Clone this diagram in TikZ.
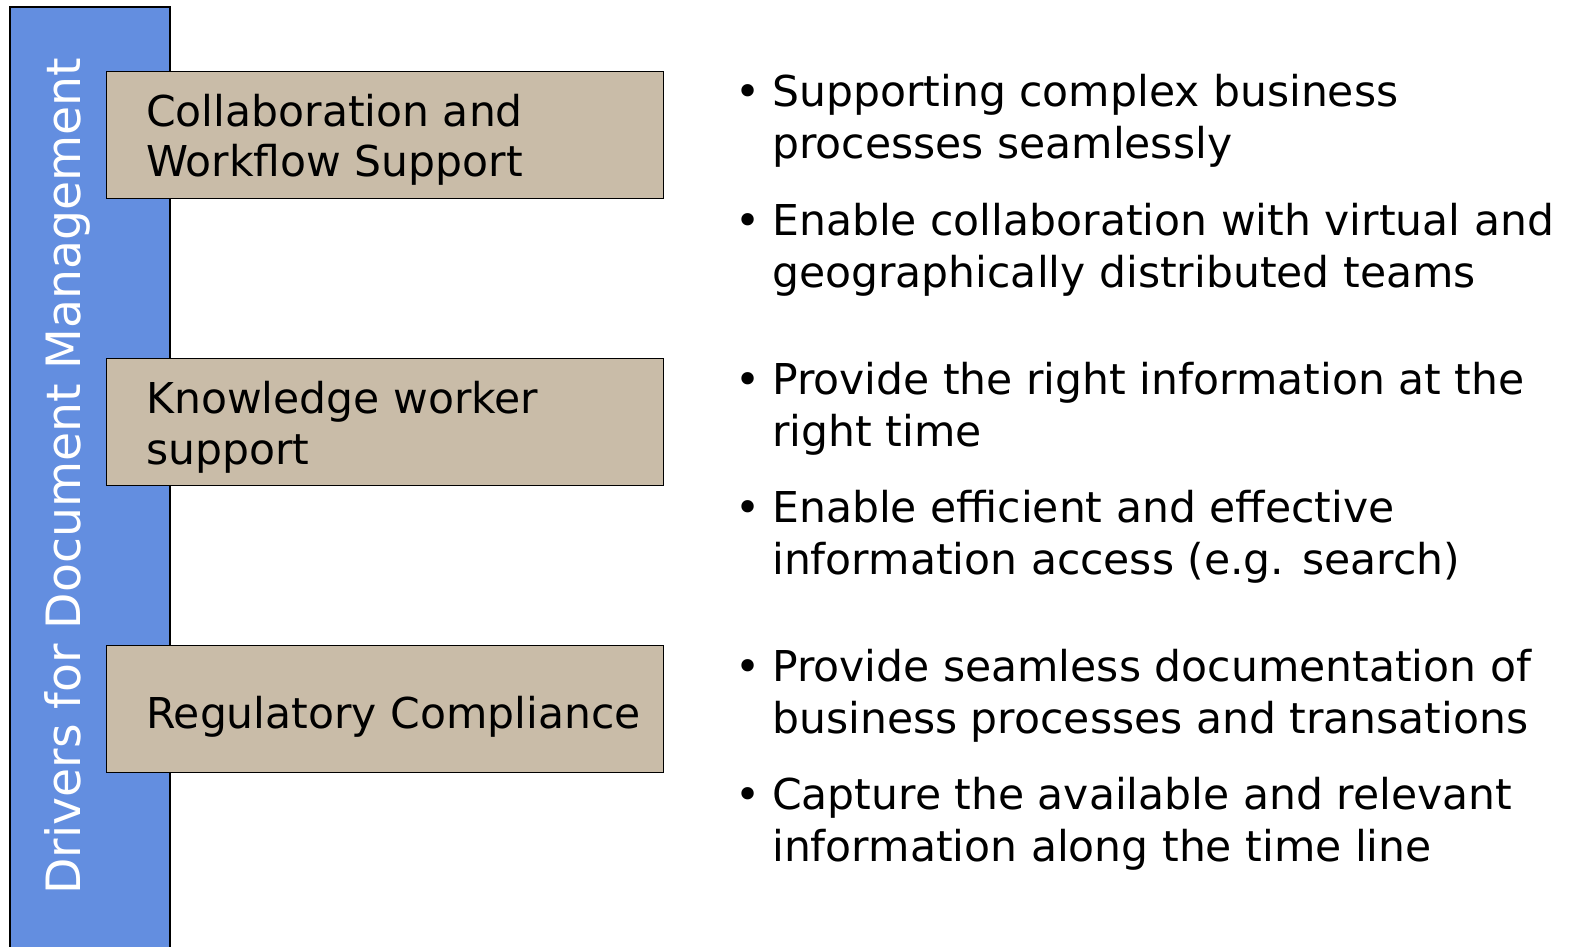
\documentclass[tikz,border=0pt]{standalone}
\usepackage{fontspec}
\setmainfont{DejaVu Sans}
\definecolor{barblue}{RGB}{99,142,224}
\definecolor{tan}{RGB}{201,188,168}
\tikzset{
  drv/.style={draw=black, line width=1.2pt, fill=tan, minimum width=557pt, minimum height=127pt,
    anchor=north west, inner sep=0pt},
  lbl/.style={anchor=base west, inner sep=0pt, align=left, font=\fontsize{42.5}{51}\selectfont},
  bul/.style={anchor=base west, inner sep=0pt, align=left, font=\fontsize{42.5}{52}\selectfont},
  dot/.style={anchor=base, inner sep=0pt, font=\fontsize{42.5}{52}\selectfont},
}
\begin{document}
\begin{tikzpicture}[x=1pt,y=-1pt]
\useasboundingbox (0,0) rectangle (1575,947);
\fill[barblue] (10,7) rectangle (170,948);
\draw[line width=1.2pt] (10,948) -- (10,7) -- (170,7) -- (170,948);
\node[rotate=90, anchor=base, text=white, inner sep=0pt, font=\fontsize{47.3}{50}\selectfont] (title) at (80,476) {Drivers for Document Management};
\node[drv] (b1) at (106,71) {};
\node[drv] (b2) at (106,358) {};
\node[drv] (b3) at (106,645) {};
\node[lbl] (l1) at (146,177) {Collaboration and\\Workflow Support};
\node[lbl] (l2) at (146,464) {Knowledge worker\\support};
\node[lbl] (l3) at (146,728) {Regulatory Compliance};
\node[bul] (t1) at (772,159) {Supporting complex business\\processes seamlessly};
\node[bul] (t2) at (772,287) {Enable collaboration with virtual and\\geographically distributed teams};
\node[bul] (t3) at (772,446) {Provide the right information at the\\right time};
\node[bul] (t4) at (772,574) {Enable efficient and effective\\information access (e.g. search)};
\node[bul] (t5) at (772,733) {Provide seamless documentation of\\business processes and transations};
\node[bul] (t6) at (772,861) {Capture the available and relevant\\information along the time line};
\foreach \n/\y in {1/107,2/235,3/394,4/522,5/681,6/809} \node[dot] (d\n) at (748,\y) {•};
\end{tikzpicture}
\end{document}
